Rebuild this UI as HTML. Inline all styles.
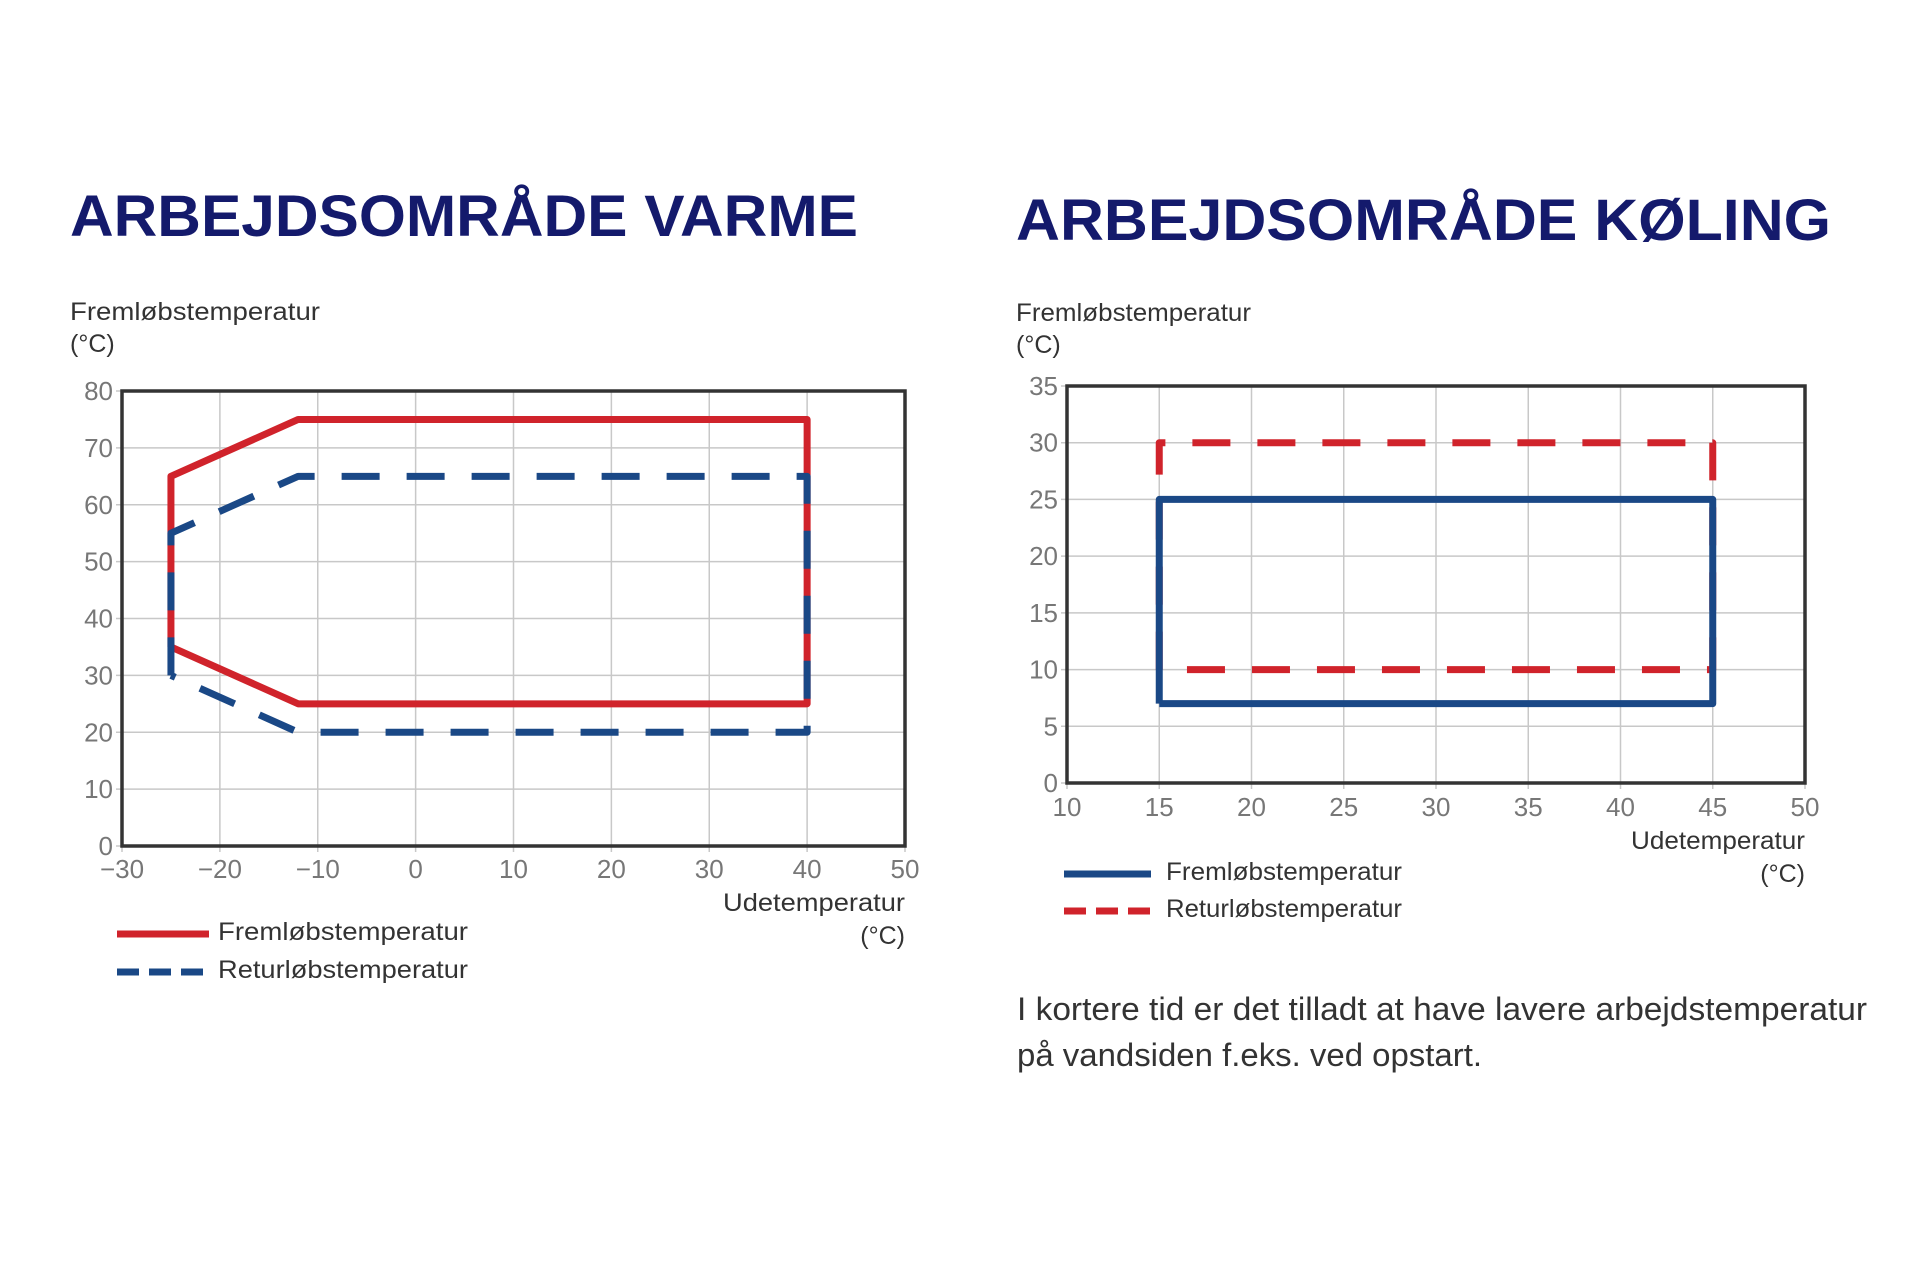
<!DOCTYPE html>
<html><head><meta charset="utf-8"><style>
html,body{margin:0;padding:0;background:#fff;}
svg{display:block;font-family:"Liberation Sans",sans-serif;}
</style></head><body>
<svg id="svg" width="1920" height="1280" viewBox="0 0 1920 1280">
<text x="70" y="236" font-size="58" font-weight="bold" fill="#141a6c" textLength="788" lengthAdjust="spacingAndGlyphs">ARBEJDSOMRÅDE VARME</text>
<text x="1016" y="240" font-size="58" font-weight="bold" fill="#141a6c" textLength="815" lengthAdjust="spacingAndGlyphs">ARBEJDSOMRÅDE KØLING</text>
<g id="c1"></g>
<g id="c2"></g>
<text x="1017" y="1020" font-size="32" fill="#333" textLength="850" lengthAdjust="spacingAndGlyphs">I kortere tid er det tilladt at have lavere arbejdstemperatur</text>
<text x="1017" y="1066" font-size="32" fill="#333" textLength="465" lengthAdjust="spacingAndGlyphs">på vandsiden f.eks. ved opstart.</text>
</svg>
<script>
const heatXTicks=[-30,-20,-10,0,10,20,30,40,50];
const heatYTicks=[0,10,20,30,40,50,60,70,80];
const heatFlowX=[-25,-25,-12,40,40,-12,-25];
const heatFlowY=[35,65,75,75,25,25,35];
const heatReturnX=[-25,-25,-12,40,40,-12,-25];
const heatReturnY=[30,55,65,65,20,20,30];
const coolXTicks=[10,15,20,25,30,35,40,45,50];
const coolYTicks=[0,5,10,15,20,25,30,35];
const coolFlowX=[15,15,45,45,15];
const coolFlowY=[7,25,25,7,7];
const coolReturnX=[15,15,45,45,15];
const coolReturnY=[10,30,30,10,10];
const RED="#d0232b",BLUE="#1a4886";
const NS="http://www.w3.org/2000/svg";
function mk(p,t,a,txt){const e=document.createElementNS(NS,t);for(const k in a)e.setAttribute(k,a[k]);if(txt!=null)e.textContent=txt;p.appendChild(e);return e;}
function chart(g,o){
  const sx=v=>o.L+(v-o.xmin)/(o.xmax-o.xmin)*(o.R-o.L);
  const sy=v=>o.B-(v-o.ymin)/(o.ymax-o.ymin)*(o.B-o.T);
  o.xt.forEach(v=>{
    const l=mk(g,'line',{x1:sx(v),x2:sx(v),y1:o.T,y2:o.B+6,stroke:'#c8c8c8','stroke-width':1.5});
    
    
    const t=mk(g,'text',{x:sx(v),y:o.xly,'font-size':26,fill:'#777','text-anchor':'middle'},String(v).replace('-','−'));
    
    
  });
  o.yt.forEach(v=>{
    const l=mk(g,'line',{x1:o.L-6,x2:o.R,y1:sy(v),y2:sy(v),stroke:'#c8c8c8','stroke-width':1.5});
    
    
    const t=mk(g,'text',{x:o.L-9,y:sy(v)+9,'font-size':26,fill:'#777','text-anchor':'end'},v);
    
    
  });
  const fr=mk(g,'rect',{x:o.L,y:o.T,width:o.R-o.L,height:o.B-o.T,fill:'none',stroke:'#333','stroke-width':3.5});
  
  
  o.series.forEach(s=>{
    const pts=s.x.map((v,i)=>sx(v)+','+sy(s.y[i])).join(' ');
    const a={points:pts,fill:'none',stroke:s.c,'stroke-width':7,'stroke-linejoin':'round'};
    if(s.d)a['stroke-dasharray']='38 27';
    const p=mk(g,'polyline',a);
    
    
  });
  const yt1=mk(g,'text',{x:o.ytx,y:o.yty,'font-size':25,fill:'#333',textLength:o.ytw,lengthAdjust:'spacingAndGlyphs'},'Fremløbstemperatur');
  
  
  const yt2=mk(g,'text',{x:o.ytx,y:o.yty+32,'font-size':25,fill:'#333'},'(°C)');
  
  
  const xt1=mk(g,'text',{x:o.R-o.xtw,y:o.xty,'font-size':25,fill:'#333',textLength:o.xtw,lengthAdjust:'spacingAndGlyphs'},'Udetemperatur');
  
  
  const xt2=mk(g,'text',{x:o.R,y:o.xty+33,'font-size':25,fill:'#333','text-anchor':'end'},'(°C)');
  
  
  o.leg.forEach((e,i)=>{
    const y=o.lgy+i*o.lgd;
    const a={x1:o.lgx,x2:o.lgx+o.lgw,y1:y,y2:y,stroke:e.c,'stroke-width':7};
    if(e.d)a['stroke-dasharray']='22 10';
    const l=mk(g,'line',a);
    
    
    const t=mk(g,'text',{x:o.lgtx,y:y+6,'font-size':25,fill:'#333',textLength:o.lgtw,lengthAdjust:'spacingAndGlyphs'},e.t);
    
    
  });
}
chart(document.getElementById('c1'),{L:122,R:905,T:391,B:846,xmin:-30,xmax:50,ymin:0,ymax:80,xt:heatXTicks,yt:heatYTicks,xly:878,
  ytx:70,yty:320,ytw:250,xty:911,xtw:182,lgx:117,lgw:92,lgy:934,lgd:38,lgtx:218,lgtw:250,
  series:[{x:heatFlowX,y:heatFlowY,c:RED,d:false,n:'heating-flow-line'},{x:heatReturnX,y:heatReturnY,c:BLUE,d:true,n:'heating-return-line'}],
  leg:[{c:RED,d:false,t:'Fremløbstemperatur'},{c:BLUE,d:true,t:'Returløbstemperatur'}]});
chart(document.getElementById('c2'),{L:1067,R:1805,T:386,B:783,xmin:10,xmax:50,ymin:0,ymax:35,xt:coolXTicks,yt:coolYTicks,xly:816,
  ytx:1016,yty:321,ytw:235,xty:849,xtw:174,lgx:1064,lgw:87,lgy:874,lgd:37,lgtx:1166,lgtw:236,
  series:[{x:coolReturnX,y:coolReturnY,c:RED,d:true,n:'cooling-return-line'},{x:coolFlowX,y:coolFlowY,c:BLUE,d:false,n:'cooling-flow-line'}],
  leg:[{c:BLUE,d:false,t:'Fremløbstemperatur'},{c:RED,d:true,t:'Returløbstemperatur'}]});
</script>
</body></html>
